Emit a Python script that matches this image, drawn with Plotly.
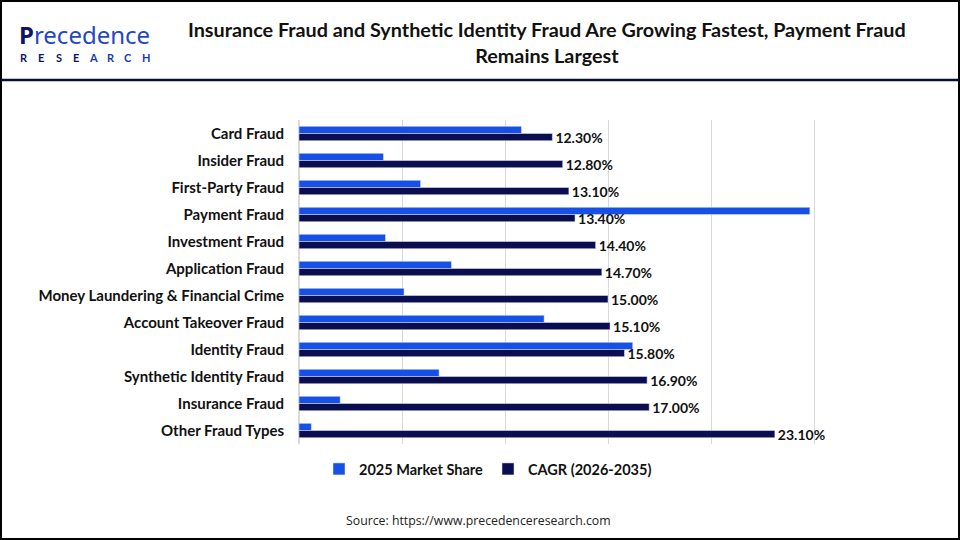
import plotly.graph_objects as go

categories = ["Card Fraud", "Insider Fraud", "First-Party Fraud", "Payment Fraud",
              "Investment Fraud", "Application Fraud", "Money Laundering & Financial Crime",
              "Account Takeover Fraud", "Identity Fraud", "Synthetic Identity Fraud",
              "Insurance Fraud", "Other Fraud Types"]
market_share_2025 = [10.8, 4.1, 5.9, 24.8, 4.2, 7.4, 5.1, 11.9, 16.2, 6.8, 2.0, 0.6]
cagr_2026_2035 = [12.3, 12.8, 13.1, 13.4, 14.4, 14.7, 15.0, 15.1, 15.8, 16.9, 17.0, 23.1]
cagr_labels = [f"{v:.2f}%" for v in cagr_2026_2035]

W, H = 960, 540
L, R, T, B = 299, 917, 120, 444

def px(x):
    return (x - L) / (R - L)

def py(y):
    return (B - y) / (B - T)

BLUE = "#1650E6"
NAVY = "#0A0E50"
FONT = "Lato"

fig = go.Figure()
fig.add_trace(go.Bar(
    y=categories, x=market_share_2025, orientation="h", name="2025 Market Share",
    marker=dict(color=BLUE), hoverinfo="x+y"))
fig.add_trace(go.Bar(
    y=categories, x=cagr_2026_2035, orientation="h", name="CAGR (2026-2035)",
    marker=dict(color=NAVY), text=cagr_labels, textposition="outside",
    constraintext="none",
    textfont=dict(family=FONT, size=14, color="#111111", weight="bold"),
    cliponaxis=False, hoverinfo="x+y"))

shapes = [
    dict(type="rect", xref="paper", yref="paper", x0=px(1), x1=px(959), y0=py(1), y1=py(539),
         line=dict(color="#000000", width=2), fillcolor="rgba(0,0,0,0)", layer="above"),
    dict(type="line", xref="paper", yref="paper", x0=px(1), x1=px(959), y0=py(80), y1=py(80),
         line=dict(color="#0A0E3A", width=2.5)),
]

annotations = [
    dict(text="<b>Insurance Fraud and Synthetic Identity Fraud Are Growing Fastest, Payment Fraud<br>Remains Largest</b>",
         xref="paper", yref="paper", x=px(547), y=py(42), xanchor="center", yanchor="middle",
         showarrow=False, font=dict(family=FONT, size=19.8, color="#111111"), align="center"),
    dict(text="<span style='color:#0D1566'><b>P</b></span>recedence", xref="paper", yref="paper",
         x=px(17), y=py(35), xanchor="left", yanchor="middle", showarrow=False,
         font=dict(family="Noto Sans", size=24, color="#2447C8")),
    dict(text="Source: https://www.precedenceresearch.com", xref="paper", yref="paper",
         x=px(478), y=py(520), xanchor="center", yanchor="middle", showarrow=False,
         font=dict(family="Open Sans", size=12.3, color="#222222")),
]
for i, ch in enumerate("RESEARCH"):
    annotations.append(dict(
        text=f"<b>{ch}</b>", xref="paper", yref="paper", x=px(24 + i * 17.4), y=py(57),
        xanchor="center", yanchor="middle", showarrow=False,
        font=dict(family=FONT, size=11, color="#0D1566" if i < 4 else "#1C3AB0")))

fig.update_layout(
    width=W, height=H,
    margin=dict(l=L, r=W - R, t=T, b=H - B, pad=0),
    paper_bgcolor="white", plot_bgcolor="white",
    barmode="group", bargap=0.47, bargroupgap=0.0,
    showlegend=True,
    legend=dict(orientation="h", x=px(488), y=py(469), xanchor="center", yanchor="middle",
                font=dict(family=FONT, size=14.5, color="#111111", weight="bold"),
                itemwidth=30, tracegroupgap=0, traceorder="normal"),
    xaxis=dict(range=[0, 30], dtick=5, showgrid=True, gridcolor="#D9D9D9", gridwidth=1,
               showticklabels=False, zeroline=True, zerolinecolor="#D9D9D9",
               showline=False, ticks="", fixedrange=True),
    yaxis=dict(autorange="reversed", showgrid=False, ticks="", ticklen=0,
               tickfont=dict(family=FONT, size=15, color="#111111", weight="bold"),
               ticklabelstandoff=14, showline=False, fixedrange=True),
    shapes=shapes, annotations=annotations,
)

fig.write_html("out.html", config={"displayModeBar": False},
               post_script="document.body.style.margin='0';document.body.style.padding='0';")
